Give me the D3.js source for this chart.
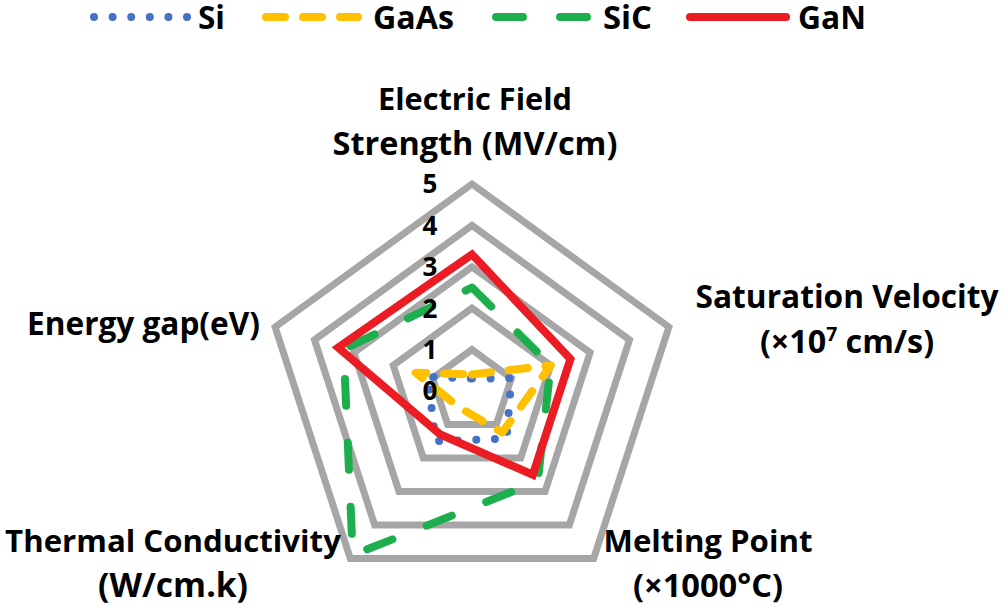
<!DOCTYPE html>
<html><head><meta charset="utf-8">
<script src="https://cdn.jsdelivr.net/npm/d3@7"></script>
<style>body{margin:0;background:#fff;overflow:hidden}</style>
</head><body><svg id="c" width="1005" height="609"></svg>
<script>
// ---- data ----
const axisLabels = [
  ["Electric Field", "Strength (MV/cm)"],
  ["Saturation Velocity", "(×10⁷ cm/s)"],
  ["Melting Point", "(×1000°C)"],
  ["Thermal Conductivity", "(W/cm.k)"],
  ["Energy gap(eV)"]
];
const seriesNames = ["Si", "GaAs", "SiC", "GaN"];
const siValues   = [0.3, 1.0, 1.42, 1.5, 1.12];
const gaasValues = [0.4, 2.0, 1.24, 0.5, 1.43];
const sicValues  = [2.5, 2.0, 2.7, 4.9, 3.26];
const ganValues  = [3.3, 2.5, 2.5, 1.3, 3.4];
const tickValues = [0, 1, 2, 3, 4, 5];

// ---- layout / styles ----
const cx = 472, cy = 391, R = 207;
const FONT = "'Open Sans', 'Liberation Sans', sans-serif";
const styles = {
  Si:   {color: "#4472C4", dash: "0 18.6", cap: "round", join: "round"},
  GaAs: {color: "#FFC000", dash: "19 18", cap: "round", join: "round"},
  SiC:  {color: "#1DAF4E", dash: "27 37", cap: "round", join: "round"},
  GaN:  {color: "#EC1C24", dash: null, cap: "butt", join: "miter"}
};
const labelLayout = [
  {x: 475, y: 110, w: [194, 285]},
  {x: 847, y: 308, w: [303, 174]},
  {x: 708, y: 552, w: [209, 150]},
  {x: 173, y: 552, w: [336, 150]},
  {x: 143.5, y: 335, w: [233]}
];
const legendLayout = [
  {x1: 94, x2: 188, tx: 198, tw: 27},
  {x1: 266, x2: 358, tx: 373, tw: 81},
  {x1: 496, x2: 590, tx: 603, tw: 49},
  {x1: 690, x2: 786, tx: 798, tw: 68}
];

const seriesValues = [siValues, gaasValues, sicValues, ganValues];
const svg = d3.select("#c");

// fit a text element's font-size so its width matches a target width
function fitWidth(sel, target, base) {
  const nat = sel.node().getComputedTextLength();
  const fs = Math.min(base * target / nat, 36);
  sel.style("font-size", fs + "px");
  sel.selectAll("tspan.sup").style("font-size", (fs * 0.6) + "px").attr("dy", -fs * 0.38);
  sel.selectAll("tspan.after").attr("dy", fs * 0.38);
}

const r = d3.scaleLinear().domain([0, 5]).range([0, R]);
const angle = d3.scaleLinear().domain([0, axisLabels.length]).range([0, 2 * Math.PI]);
const radial = d3.lineRadial()
  .angle((d, i) => angle(i))
  .radius(d => r(d))
  .curve(d3.curveLinearClosed);

const plot = svg.append("g").attr("transform", `translate(${cx},${cy})`);

// grid rings
plot.selectAll("path.ring")
  .data(tickValues.filter(t => t > 0))
  .join("path")
  .attr("class", "ring")
  .attr("d", t => radial(axisLabels.map(() => t)))
  .attr("fill", "none")
  .attr("stroke", "#A6A6A6")
  .attr("stroke-width", 7)
  .attr("stroke-linejoin", "miter");

// series
plot.selectAll("path.series")
  .data(seriesNames)
  .join("path")
  .attr("class", "series")
  .attr("d", (name, i) => radial(seriesValues[i]))
  .attr("fill", "none")
  .attr("stroke", n => styles[n].color)
  .attr("stroke-width", 8)
  .attr("stroke-dasharray", n => styles[n].dash)
  .attr("stroke-linecap", n => styles[n].cap)
  .attr("stroke-linejoin", n => styles[n].join);

// tick labels
plot.selectAll("text.tick")
  .data(tickValues)
  .join("text")
  .attr("class", "tick")
  .attr("x", -42)
  .attr("y", t => -r(t))
  .attr("dy", "0.36em")
  .attr("text-anchor", "middle")
  .style("font-family", FONT)
  .style("font-weight", 700)
  .style("font-size", "26px")
  .attr("fill", "#000")
  .text(t => t);

// axis labels
const LH = 45;
axisLabels.forEach((lines, i) => {
  const L = labelLayout[i];
  lines.forEach((line, j) => {
    const t = svg.append("text")
      .attr("x", L.x)
      .attr("y", L.y + j * LH)
      .attr("text-anchor", "middle")
      .style("font-family", FONT)
      .style("font-weight", 700)
      .style("font-size", "34px")
      .attr("fill", "#000");
    const parts = line.split("⁷");
    if (parts.length > 1) {
      t.append("tspan").text(parts[0]);
      t.append("tspan").attr("class", "sup").attr("dy", -13).style("font-size", "20px").text("7");
      t.append("tspan").attr("class", "after").attr("dy", 13).text(parts[1]);
    } else {
      t.text(line);
    }
    fitWidth(t, L.w[j], 34);
  });
});

// legend
const leg = svg.append("g");
seriesNames.forEach((name, i) => {
  const L = legendLayout[i], s = styles[name];
  leg.append("line")
    .attr("x1", L.x1).attr("x2", L.x2).attr("y1", 17).attr("y2", 17)
    .attr("stroke", s.color)
    .attr("stroke-width", 8)
    .attr("stroke-dasharray", s.dash)
    .attr("stroke-linecap", "round");
  const t = leg.append("text")
    .attr("x", L.tx).attr("y", 29)
    .style("font-family", FONT)
    .style("font-weight", 700)
    .style("font-size", "34px")
    .attr("fill", "#000")
    .text(name);
  fitWidth(t, L.tw, 34);
});
</script>
</body></html>
